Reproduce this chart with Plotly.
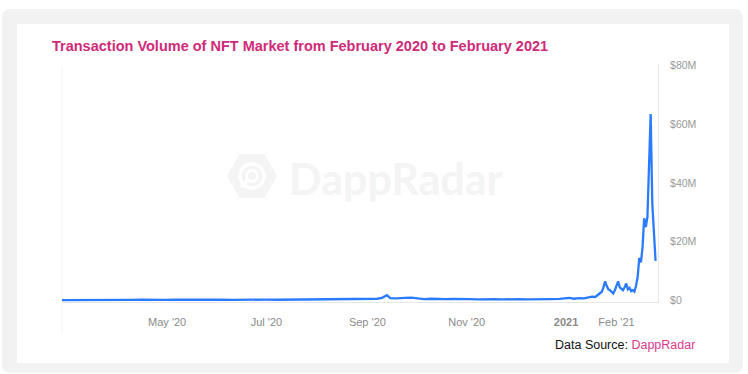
import plotly.graph_objects as go

# ---------------- data ----------------
dates = [
    "2020-02-26", "2020-03-04", "2020-03-11", "2020-03-18", "2020-03-25",
    "2020-04-01", "2020-04-08", "2020-04-15", "2020-04-22", "2020-04-29",
    "2020-05-06", "2020-05-13", "2020-05-20", "2020-05-27", "2020-06-03",
    "2020-06-10", "2020-06-17", "2020-06-24", "2020-07-01", "2020-07-08",
    "2020-07-15", "2020-07-22", "2020-07-29", "2020-08-05", "2020-08-12",
    "2020-08-19", "2020-08-26", "2020-09-02", "2020-09-07", "2020-09-10",
    "2020-09-13", "2020-09-15", "2020-09-19", "2020-09-24", "2020-09-28",
    "2020-10-02", "2020-10-06", "2020-10-10", "2020-10-14", "2020-10-19",
    "2020-10-24", "2020-10-29", "2020-11-03", "2020-11-08", "2020-11-13",
    "2020-11-18", "2020-11-23", "2020-11-28", "2020-12-03", "2020-12-08",
    "2020-12-13", "2020-12-18", "2020-12-23", "2020-12-28", "2021-01-01",
    "2021-01-03", "2021-01-06", "2021-01-09", "2021-01-12", "2021-01-15",
    "2021-01-17", "2021-01-19", "2021-01-21", "2021-01-23", "2021-01-24",
    "2021-01-25", "2021-01-26", "2021-01-27", "2021-01-28", "2021-01-29",
    "2021-01-30", "2021-01-31", "2021-02-01", "2021-02-02", "2021-02-03",
    "2021-02-04", "2021-02-05", "2021-02-06", "2021-02-07", "2021-02-08",
    "2021-02-09", "2021-02-10", "2021-02-11", "2021-02-12", "2021-02-13",
    "2021-02-14", "2021-02-15", "2021-02-16", "2021-02-17", "2021-02-18",
    "2021-02-19", "2021-02-20", "2021-02-21", "2021-02-22", "2021-02-23",
    "2021-02-24", "2021-02-25",
]
volume_musd = [
    0.15, 0.2, 0.15, 0.2, 0.25,
    0.2, 0.2, 0.25, 0.35, 0.2,
    0.25, 0.3, 0.25, 0.2, 0.25,
    0.2, 0.3, 0.25, 0.3, 0.25,
    0.3, 0.35, 0.3, 0.4, 0.35,
    0.45, 0.4, 0.5, 0.6, 0.9,
    1.8, 0.8, 0.7, 0.9, 1.0,
    0.7, 0.5, 0.6, 0.5, 0.45,
    0.55, 0.4, 0.5, 0.4, 0.5,
    0.45, 0.4, 0.5, 0.45, 0.4,
    0.5, 0.45, 0.5, 0.55, 0.7,
    0.9, 0.6, 0.8, 0.7, 1.0,
    1.3, 1.2, 2.0, 3.0, 4.5,
    6.5, 5.0, 3.8, 3.5, 3.0,
    2.4, 3.5, 5.0, 6.5, 4.5,
    4.0, 3.5, 4.5, 5.8, 3.8,
    4.3, 3.2, 3.5, 3.0, 5.0,
    8.0, 14.5, 13.0, 18.0, 28.0,
    25.0, 28.5, 46.0, 63.5, 33.0,
    22.0, 13.5,
]
volume_usd = [v * 1e6 for v in volume_musd]

x_tick_dates = ["2020-05-01", "2020-07-01", "2020-09-01", "2020-11-01", "2021-01-01", "2021-02-01"]
x_tick_labels = ["May '20", "Jul '20", "Sep '20", "Nov '20", "<b>2021</b>", "Feb '21"]
y_tick_values = [0, 20e6, 40e6, 60e6, 80e6]
y_tick_labels = ["$0", "$20M", "$40M", "$60M", "$80M"]

title_text = "Transaction Volume of NFT Market from February 2020 to February 2021"

# ---------------- layout helpers ----------------
W, H = 748, 374
L, R, T, B = 62, 658, 64, 302


def px(x):
    return (x - L) / (R - L)


def py(y):
    return (B - y) / (B - T)


def rounded_rect(x0, y0, x1, y1, r):
    pts = [
        ("M", x0 + r, y0), ("L", x1 - r, y0), ("Q", x1, y0, x1, y0 + r),
        ("L", x1, y1 - r), ("Q", x1, y1, x1 - r, y1), ("L", x0 + r, y1),
        ("Q", x0, y1, x0, y1 - r), ("L", x0, y0 + r), ("Q", x0, y0, x0 + r, y0),
    ]
    s = ""
    for p in pts:
        cmd = p[0]
        coords = p[1:]
        parts = []
        for i in range(0, len(coords), 2):
            parts.append(f"{px(coords[i]):.5f},{py(coords[i+1]):.5f}")
        s += cmd + " " + " ".join(parts) + " "
    return s + "Z"


def poly(points):
    s = "M " + " L ".join(f"{px(a):.5f},{py(b):.5f}" for a, b in points)
    return s + " Z"


shapes = []
# outer grey card
shapes.append(dict(type="path", xref="paper", yref="paper", layer="below",
                   path=rounded_rect(2, 9, 743, 373, 9),
                   fillcolor="#f2f2f2", line=dict(width=0)))
# inner white panel
shapes.append(dict(type="rect", xref="paper", yref="paper", layer="below",
                   x0=px(17), x1=px(729), y0=py(363), y1=py(24),
                   fillcolor="#ffffff", line=dict(width=0)))
# faint left border of plot
shapes.append(dict(type="line", xref="paper", yref="paper", layer="below",
                   x0=px(62), x1=px(62), y0=py(66), y1=py(333),
                   line=dict(color="#f4f4f4", width=1)))
# watermark logo (hexagon with radar rings)
wm = "#f4f4f4"
cx, cy = 252, 176
shapes.append(dict(type="path", xref="paper", yref="paper", layer="below",
                   path=poly([(227, 176), (239.5, 154), (264.5, 154), (277, 176), (264.5, 198), (239.5, 198)]),
                   fillcolor=wm, line=dict(width=0)))
shapes.append(dict(type="circle", xref="paper", yref="paper", layer="below",
                   x0=px(cx - 12), x1=px(cx + 12), y0=py(cy + 12), y1=py(cy - 12),
                   fillcolor="rgba(0,0,0,0)", line=dict(color="#ffffff", width=3.5)))
shapes.append(dict(type="circle", xref="paper", yref="paper", layer="below",
                   x0=px(cx - 5.5), x1=px(cx + 5.5), y0=py(cy + 5.5), y1=py(cy - 5.5),
                   fillcolor="rgba(0,0,0,0)", line=dict(color="#ffffff", width=3)))
shapes.append(dict(type="path", xref="paper", yref="paper", layer="below",
                   path=poly([(cx - 14, cy + 6), (cx - 14, cy + 14), (cx - 6, cy + 14)]),
                   fillcolor=wm, line=dict(width=0)))
shapes.append(dict(type="line", xref="paper", yref="paper", layer="below",
                   x0=px(cx - 11), x1=px(cx - 3), y0=py(cy + 11), y1=py(cy + 3),
                   line=dict(color="#ffffff", width=3)))

annotations = [
    dict(text=f"<b>{title_text}</b>", xref="paper", yref="paper",
         x=px(50), y=py(46), xanchor="left", yanchor="middle", showarrow=False,
         font=dict(family="Liberation Sans, Arial, sans-serif", size=14.5, color="#cf2a78")),
    dict(text="DappRadar", xref="paper", yref="paper",
         x=px(287), y=py(178), xanchor="left", yanchor="middle", showarrow=False,
         font=dict(family="Lato, sans-serif", size=43, color=wm, weight="bold")),
    dict(text="Data Source: <span style='color:#d93a8c'>DappRadar</span>",
         xref="paper", yref="paper", x=px(697), y=py(345), xanchor="right", yanchor="middle",
         showarrow=False, font=dict(family="Liberation Sans, Arial, sans-serif", size=12.5, color="#111111")),
]

fig = go.Figure()
fig.add_trace(go.Scatter(
    x=dates, y=volume_usd, mode="lines",
    line=dict(color="#2b7bff", width=2.3),
    hoverinfo="skip",
))

fig.update_layout(
    width=W, height=H,
    margin=dict(l=L, r=W - R, t=T, b=H - B, pad=0),
    paper_bgcolor="#ffffff",
    plot_bgcolor="rgba(0,0,0,0)",
    showlegend=False,
    shapes=shapes,
    annotations=annotations,
    xaxis=dict(
        type="date",
        range=["2020-02-26 10:00", "2021-02-26 12:00"],
        tickvals=x_tick_dates, ticktext=x_tick_labels,
        showgrid=False, zeroline=False,
        showline=True, linecolor="#e6e6e6", linewidth=1,
        ticks="", ticklabelstandoff=10,
        tickfont=dict(family="Liberation Sans, Arial, sans-serif", size=11, color="#8a8a8a"),
    ),
    yaxis=dict(
        side="right",
        range=[-0.51e6, 80.5e6],
        tickvals=y_tick_values, ticktext=y_tick_labels,
        showgrid=False, zeroline=False,
        showline=True, linecolor="#e6e6e6", linewidth=1,
        ticks="", ticklabelstandoff=9,
        tickfont=dict(family="Liberation Sans, Arial, sans-serif", size=10.5, color="#999999"),
    ),
)

fig.write_html(
    "out.html",
    config={"displayModeBar": False},
    post_script="document.body.style.margin='0px';document.body.style.overflow='hidden';",
)
